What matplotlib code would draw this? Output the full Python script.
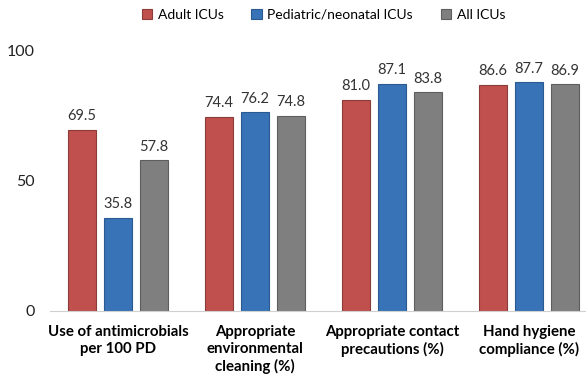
import matplotlib
matplotlib.use("Agg")
import matplotlib.pyplot as plt
import numpy as np

plt.rcParams['font.family'] = ['Lato', 'DejaVu Sans']

categories = ["Use of antimicrobials\nper 100 PD",
              "Appropriate\nenvironmental\ncleaning (%)",
              "Appropriate contact\nprecautions (%)",
              "Hand hygiene\ncompliance (%)"]
series_names = ["Adult ICUs", "Pediatric/neonatal ICUs", "All ICUs"]
adult = [69.5, 74.4, 81.0, 86.6]
pediatric = [35.8, 76.2, 87.1, 87.7]
all_icus = [57.8, 74.8, 83.8, 86.9]

colors = ["#C0504D", "#3873B8", "#7F7F7F"]
edges = ["#8C3B38", "#2B5A90", "#5E5E5E"]

fig = plt.figure(figsize=(5.86, 3.77), dpi=100)
ax = fig.add_axes([50/586, 66/377, 1 - 50/586, 261/377])

x = np.arange(len(categories))
w = 0.21
off = 0.263
for i, (vals, name) in enumerate(zip([adult, pediatric, all_icus], series_names)):
    bars = ax.bar(x + (i - 1)*off, vals, w, color=colors[i], edgecolor=edges[i],
                  linewidth=0.8, label=name)
    for b, v in zip(bars, vals):
        ax.text(b.get_x() + b.get_width()/2, v + 2.5, "{:.1f}".format(v),
                ha='center', va='bottom', fontsize=10.5, color='#333333')

ax.set_xlim(-68/137, 3 + 57/137)
ax.set_ylim(0, 100)
ax.set_yticks([0, 50, 100])
ax.tick_params(axis='y', length=0, pad=11, labelsize=11.5, labelcolor='#222222')
ax.set_xticks(x)
ax.set_xticklabels(categories, fontweight='bold', fontsize=10.8, linespacing=1.25)
ax.tick_params(axis='x', length=0, pad=10)
for s in ['left', 'right', 'top']:
    ax.spines[s].set_visible(False)
ax.spines['bottom'].set_color('#D0D0D0')

fig.legend(loc='upper center', bbox_to_anchor=(0.552, 1.01), ncol=3, frameon=False,
           fontsize=10, handlelength=0.75, handleheight=0.75, handletextpad=0.4,
           columnspacing=2.0)

fig.savefig("out.png", dpi=100)
